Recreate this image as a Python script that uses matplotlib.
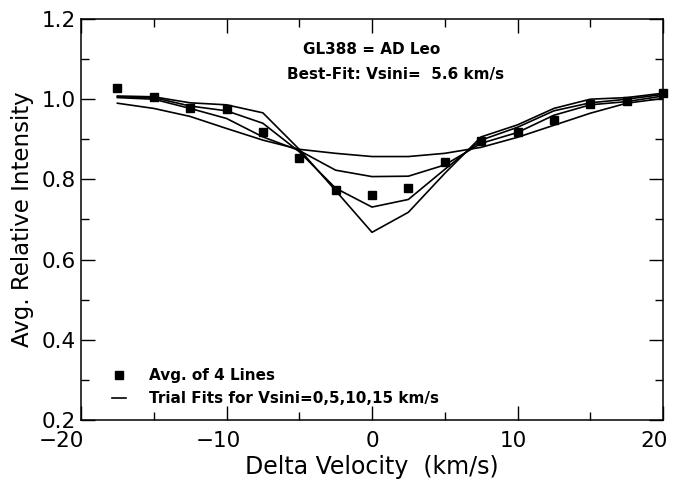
import matplotlib
matplotlib.use("Agg")
import matplotlib.pyplot as plt
from matplotlib.ticker import MultipleLocator
from matplotlib.transforms import ScaledTranslation

plt.rcParams['font.family'] = ['DejaVu Sans']

# Data
velocity = [-17.5, -15.0, -12.5, -10.0, -7.5, -5.0, -2.5, 0.0, 2.5, 5.0,
            7.5, 10.0, 12.5, 15.0, 17.5, 20.0]
avg_lines = [1.028, 1.006, 0.979, 0.976, 0.918, 0.854, 0.774, 0.761, 0.779,
             0.843, 0.897, 0.917, 0.948, 0.988, 0.996, 1.015]
fit_v0 = [1.008, 1.006, 0.991, 0.986, 0.966, 0.875, 0.772, 0.668, 0.718,
          0.815, 0.906, 0.936, 0.977, 1.000, 1.004, 1.015]
fit_v5 = [1.006, 1.004, 0.983, 0.971, 0.940, 0.869, 0.778, 0.731, 0.750,
          0.825, 0.898, 0.930, 0.971, 0.991, 1.000, 1.012]
fit_v10 = [1.004, 1.000, 0.977, 0.952, 0.906, 0.872, 0.823, 0.807, 0.808,
           0.836, 0.890, 0.917, 0.960, 0.986, 0.994, 1.008]
fit_v15 = [0.990, 0.977, 0.957, 0.927, 0.898, 0.875, 0.865, 0.857, 0.857,
           0.865, 0.880, 0.905, 0.935, 0.965, 0.990, 1.002]
fits = [fit_v0, fit_v5, fit_v10, fit_v15]

fig = plt.figure(figsize=(6.73, 4.82), dpi=100)
ax = fig.add_axes([81 / 673, 1 - 420 / 482, (663 - 81) / 673, (420 - 19) / 482])

for i, f in enumerate(fits):
    ax.plot(velocity, f, color='black', lw=1.2,
            label='Trial Fits for Vsini=0,5,10,15 km/s' if i == 0 else None)
ax.plot(velocity, avg_lines, linestyle='none', marker='s', color='black',
        markersize=5.5, clip_on=False, label='Avg. of 4 Lines')

ax.set_xlim(-20, 20)
ax.set_ylim(0.2, 1.2)
ax.xaxis.set_major_locator(MultipleLocator(10))
ax.xaxis.set_minor_locator(MultipleLocator(5))
ax.yaxis.set_major_locator(MultipleLocator(0.2))
ax.yaxis.set_minor_locator(MultipleLocator(0.1))
ax.yaxis.set_major_formatter(plt.FormatStrFormatter('%.1f'))
ax.tick_params(which='both', direction='in', top=True, right=True,
               labelsize=15.5, width=1.0)
ax.tick_params(which='major', length=10)
ax.tick_params(which='minor', length=6)
ax.tick_params(axis='x', pad=8)
ax.tick_params(axis='y', pad=4)
for s in ax.spines.values():
    s.set_linewidth(1.1)

fig.canvas.draw()
x_offsets = {-20: -20, -10: -8, 0: 0, 10: -4, 20: -9}
for tick in ax.xaxis.get_major_ticks():
    loc = int(round(tick.get_loc()))
    if loc in x_offsets:
        lbl = tick.label1
        lbl.set_transform(lbl.get_transform() +
                          ScaledTranslation(x_offsets[loc] / 100, 0,
                                            fig.dpi_scale_trans))

ax.set_xlabel('Delta Velocity  (km/s)', fontsize=17, labelpad=3)
ax.set_ylabel('Avg. Relative Intensity', fontsize=16.5, labelpad=5)

ax.text(0.5, 0.925, 'GL388 = AD Leo', transform=ax.transAxes,
        ha='center', va='center', fontsize=11, fontweight='bold')
ax.text(0.54, 0.862, 'Best-Fit: Vsini=  5.6 km/s', transform=ax.transAxes,
        ha='center', va='center', fontsize=11, fontweight='bold')

handles, labels = ax.get_legend_handles_labels()
leg = ax.legend(handles[::-1], labels[::-1], loc='lower left',
                bbox_to_anchor=(0.03, 0.0), frameon=False,
                prop={'size': 11, 'weight': 'bold'},
                handlelength=0.9, handletextpad=1.5, labelspacing=0.55)

fig.savefig('out.png', dpi=100)
